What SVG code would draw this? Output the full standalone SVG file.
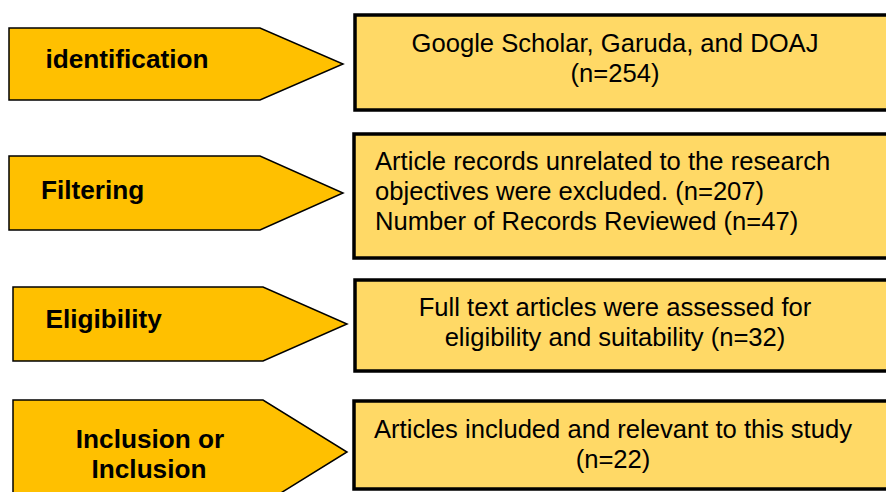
<svg xmlns="http://www.w3.org/2000/svg" width="886" height="492" viewBox="0 0 886 492">
<style>
.stage{fill:#FFC000;stroke:#000;stroke-width:1.5;stroke-linejoin:miter}
.box{fill:#FFD966;stroke:#000;stroke-width:3.5}
.lbl{font-family:"Liberation Sans",Arial,sans-serif;font-weight:bold;font-size:26.2px;fill:#000}
.txt{font-family:"Liberation Sans",Arial,sans-serif;font-size:25.6px;fill:#000}
.c{text-anchor:middle}
</style>
<rect width="886" height="492" fill="#fff"/>
<g id="stage-identification">
<polygon class="stage" points="9,28 260,28 343,64 260,100 9,100"/>
<text class="lbl" x="45.5" y="68">identification</text>
</g>
<g id="stage-filtering">
<polygon class="stage" points="9,156 260,156 343,193 260,230 9,230"/>
<text class="lbl" x="41" y="199">Filtering</text>
</g>
<g id="stage-eligibility">
<polygon class="stage" points="13,287 263,287 347,324 263,361 13,361"/>
<text class="lbl" x="45.5" y="328">Eligibility</text>
</g>
<g id="stage-inclusion">
<polygon class="stage" points="13,400 263,400 347,452 263,504 13,504"/>
<text class="lbl c" x="150" y="448">Inclusion or</text>
<text class="lbl c" x="149" y="478">Inclusion</text>
</g>
<g id="box-identification">
<rect class="box" x="355" y="15" width="540" height="95"/>
<text class="txt c" x="615" y="52">Google Scholar, Garuda, and DOAJ</text>
<text class="txt c" x="615" y="82">(n=254)</text>
</g>
<g id="box-filtering">
<rect class="box" x="354" y="134" width="540" height="124"/>
<text class="txt" x="375" y="170">Article records unrelated to the research</text>
<text class="txt" x="375" y="200">objectives were excluded. (n=207)</text>
<text class="txt" x="375" y="230">Number of Records Reviewed (n=47)</text>
</g>
<g id="box-eligibility">
<rect class="box" x="355" y="280" width="540" height="91"/>
<text class="txt c" x="615" y="316">Full text articles were assessed for</text>
<text class="txt c" x="615" y="346">eligibility and suitability (n=32)</text>
</g>
<g id="box-inclusion">
<rect class="box" x="354" y="401" width="540" height="88"/>
<text class="txt c" x="613" y="438">Articles included and relevant to this study</text>
<text class="txt c" x="613" y="468">(n=22)</text>
</g>
<g id="connectors"></g>
</svg>
